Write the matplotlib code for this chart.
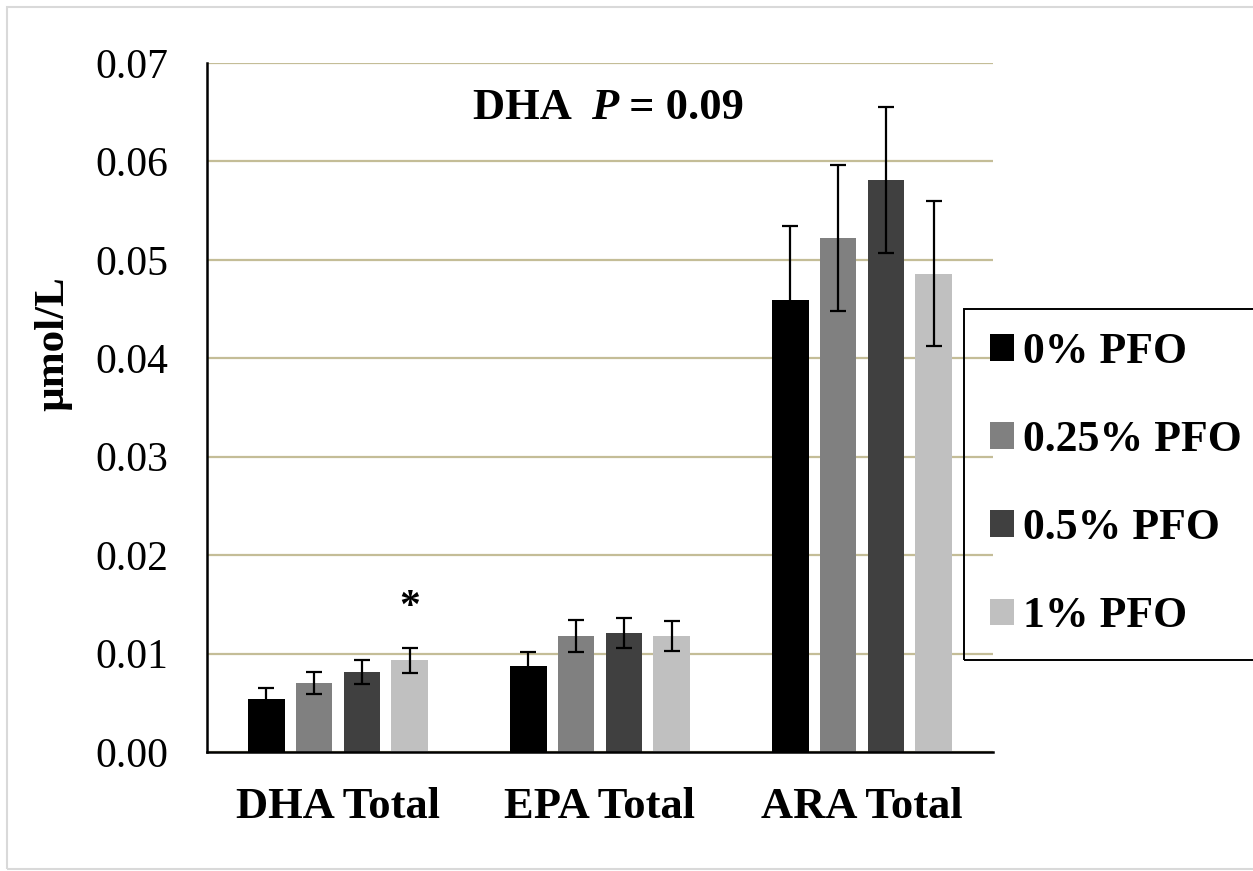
import matplotlib.pyplot as plt
from matplotlib.patches import Rectangle
import numpy as np

plt.rcParams['font.family'] = ['Liberation Serif', 'DejaVu Serif']

# datos
categorias = ['DHA Total', 'EPA Total', 'ARA Total']
grupos = ['0% PFO', '0.25% PFO', '0.5% PFO', '1% PFO']
medias = {
    '0% PFO':    [0.0054, 0.0087, 0.0459],
    '0.25% PFO': [0.0070, 0.0118, 0.0522],
    '0.5% PFO':  [0.0081, 0.0121, 0.0581],
    '1% PFO':    [0.0093, 0.0118, 0.0486],
}
errores = {
    '0% PFO':    [0.0011, 0.0015, 0.0075],
    '0.25% PFO': [0.0011, 0.0016, 0.0074],
    '0.5% PFO':  [0.0012, 0.0015, 0.0074],
    '1% PFO':    [0.0013, 0.0015, 0.0074],
}
colores = ['#000000', '#808080', '#404040', '#c0c0c0']
marcas_y = [0.00, 0.01, 0.02, 0.03, 0.04, 0.05, 0.06, 0.07]

W, H = 1253, 871
fig = plt.figure(figsize=(W / 100, H / 100), dpi=100)
ax = fig.add_axes([207 / W, 1 - 752 / H, (993 - 207) / W, (752 - 63) / H])

x = np.arange(len(categorias))
ancho = 0.141
paso = 0.183

barras = []
for k, g in enumerate(grupos):
    pos = x + (k - 1.5) * paso
    b = ax.bar(pos, medias[g], ancho, color=colores[k], label=g, zorder=3)
    ax.errorbar(pos, medias[g], yerr=errores[g], fmt='none', ecolor='black',
                elinewidth=1.6, capsize=5.5, capthick=1.6, zorder=4)
    barras.append(b)

# asterisco sobre DHA 1%
ax.annotate('*', xy=(x[0] + 1.5 * paso, medias['1% PFO'][0] + errores['1% PFO'][0]),
            xytext=(0, 15), textcoords='offset points', ha='center', va='bottom',
            fontsize=30, fontweight='bold')

ax.set_xlim(-0.5, 2.5)
ax.set_ylim(0, 0.07)
ax.set_yticks(marcas_y)
ax.set_yticklabels([f'{v:.2f}' for v in marcas_y], fontsize=30)
ax.set_xticks(x)
ax.set_xticklabels(categorias, fontsize=32, fontweight='bold')
ax.tick_params(axis='x', length=0, pad=25)
ax.tick_params(axis='y', length=0, pad=28)

ax.grid(axis='y', color='#c4bd97', linewidth=1.6, zorder=0)
ax.set_axisbelow(True)
for lado in ['top', 'right']:
    ax.spines[lado].set_visible(False)
for lado in ['left', 'bottom']:
    ax.spines[lado].set_linewidth(1.8)
    ax.spines[lado].set_zorder(5)

# texto P
t1 = ax.text(0.338, 0.905, 'DHA  ', transform=ax.transAxes, fontsize=32,
             fontweight='bold', va='bottom', ha='left')
t2 = ax.annotate('P', xycoords=t1, xy=(1, 0), va='bottom', ha='left',
                 fontsize=32, fontweight='bold', fontstyle='italic')
ax.annotate(' = 0.09', xycoords=t2, xy=(1, 0), va='bottom', ha='left',
            fontsize=32, fontweight='bold')

fig.text(53 / W, 1 - 344 / H, 'µmol/L', rotation=90, ha='center', va='center',
         fontsize=31, fontweight='bold')

# leyenda con caja que sale por la derecha
fig.legend(handles=barras, labels=grupos, loc='center left',
           bbox_to_anchor=(968 / W, 1 - 484 / H), frameon=False,
           prop={'weight': 'bold', 'size': 31.5}, handlelength=0.55,
           handleheight=0.55, handletextpad=0.2, labelspacing=1.1, borderpad=0)
fig.patches.append(Rectangle((964 / W, 1 - 660 / H), 400 / W, 351 / H,
                             transform=fig.transFigure, fill=False,
                             edgecolor='black', linewidth=1.4))

# borde del area del grafico
fig.patches.append(Rectangle((7 / W, 1 - 869 / H), 1300 / W, 862 / H,
                             transform=fig.transFigure, fill=False,
                             edgecolor='#d9d9d9', linewidth=1.5))

fig.savefig('out.png', dpi=100)
